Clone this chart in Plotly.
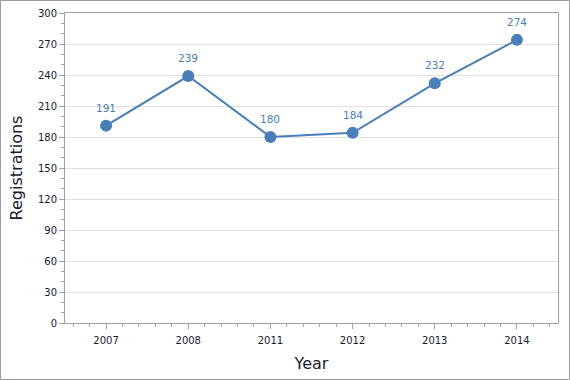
import plotly.graph_objects as go

years = ["2007", "2008", "2011", "2012", "2013", "2014"]
registrations = [191, 239, 180, 184, 232, 274]

x_pos = list(range(len(years)))
line_color = "#4a7ebb"
axis_color = "#a0a0a0"
text_color = "#1a1a2e"

fig = go.Figure()
fig.add_trace(go.Scatter(
    x=x_pos, y=registrations,
    mode="lines+markers",
    line=dict(color=line_color, width=2),
    marker=dict(color=line_color, size=12),
    hoverinfo="skip",
))

for xi, v in zip(x_pos, registrations):
    fig.add_annotation(x=xi, y=v, text=str(v), showarrow=False,
                       yshift=18, font=dict(family="DejaVu Sans", size=10.5, color=line_color))

fig.update_layout(
    width=570, height=380,
    margin=dict(l=65, r=12, t=13, b=57, autoexpand=False),
    paper_bgcolor="white", plot_bgcolor="white",
    showlegend=False,
    font=dict(family="DejaVu Sans", size=10, color=text_color),
    xaxis=dict(
        automargin=False,
        range=[-0.5, len(years) - 0.5],
        tickmode="array", tickvals=x_pos, ticktext=years,
        showgrid=False, zeroline=False,
        showline=True, linecolor=axis_color, linewidth=1, mirror=True,
        ticks="outside", ticklen=5, tickcolor=axis_color,
        ticklabelstandoff=3,
        tickfont=dict(size=10, color=text_color),
        minor=dict(dtick=0.2, tick0=0, ticks="outside", ticklen=3, tickcolor=axis_color, showgrid=False),
        title=dict(text="Year", font=dict(size=16, color=text_color), standoff=12),
    ),
    yaxis=dict(
        automargin=False,
        range=[0, 300], dtick=30, tick0=0,
        showgrid=True, gridcolor="#e0e0e0", gridwidth=1, zeroline=False,
        showline=True, linecolor=axis_color, linewidth=1, mirror=True,
        ticks="outside", ticklen=5, tickcolor=axis_color,
        tickfont=dict(size=10, color=text_color),
        minor=dict(dtick=10, ticks="outside", ticklen=3, tickcolor=axis_color, showgrid=False),
        title=dict(text="Registrations", font=dict(size=16, color=text_color), standoff=11),
    ),
)

# outer chart border
fig.add_shape(type="rect", xref="paper", yref="paper",
              x0=-64.5/493, x1=(570-65-0.5)/493, y0=-(57-0.5)/310, y1=(13-0.5)/310 + 1,
              line=dict(color="#9a9aa8", width=1), layer="above")

fig.write_html("out.html", config={"displayModeBar": False},
               post_script="document.body.style.margin='0px';")
